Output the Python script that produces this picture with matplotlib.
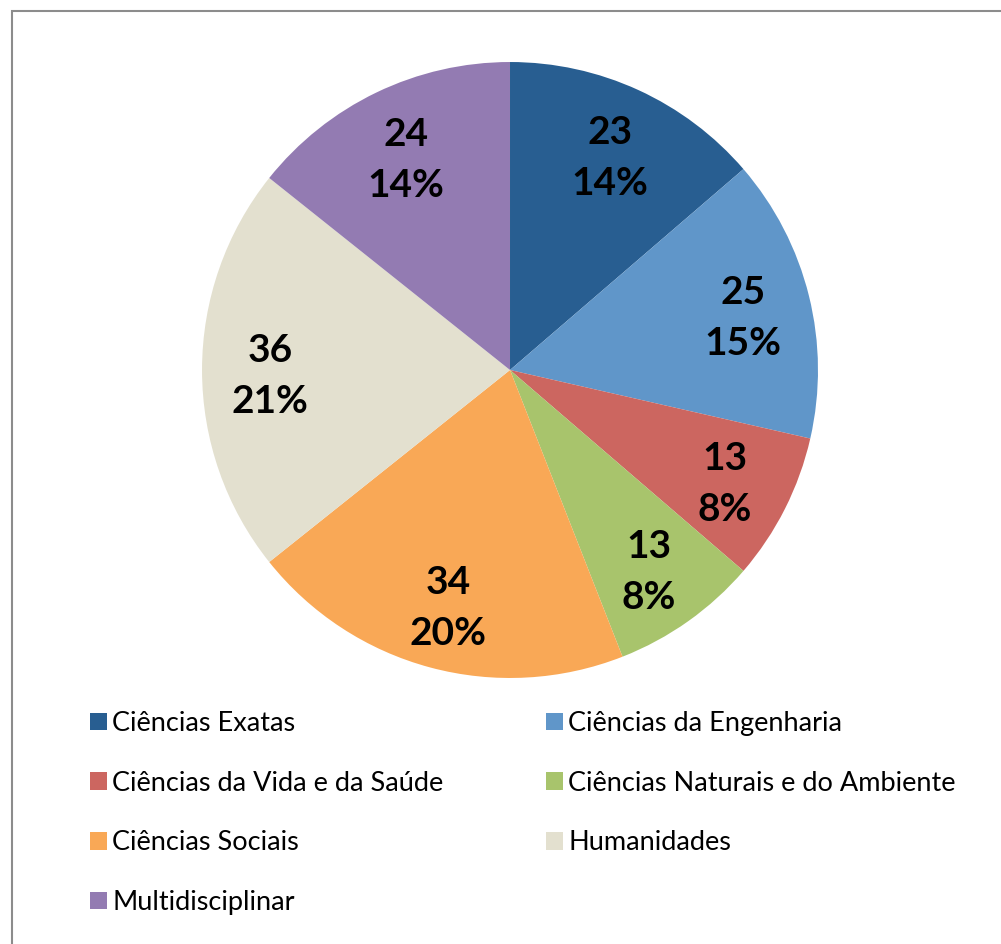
import matplotlib.pyplot as plt
from matplotlib.patches import Rectangle, Patch

# data
categories = ['Ciências Exatas', 'Ciências da Engenharia', 'Ciências da Vida e da Saúde',
              'Ciências Naturais e do Ambiente', 'Ciências Sociais', 'Humanidades',
              'Multidisciplinar']
values = [23, 25, 13, 13, 34, 36, 24]
colors = ['#285E91', '#6096C9', '#CC6660', '#A8C46C', '#F9A856', '#E3E0CF', '#937BB2']

plt.rcParams['font.family'] = ['Lato', 'DejaVu Sans']

total = sum(values)

def fmt(pct):
    return '%d\n%.0f%%' % (round(pct * total / 100.0), pct)

fig = plt.figure(figsize=(10.01, 9.44), dpi=100)
ax = fig.add_axes([0.2018, 0.2818, 0.6154, 0.6525])
wedges, _, autotexts = ax.pie(values, colors=colors, startangle=90, counterclock=False,
                              radius=1.0, autopct=fmt, pctdistance=0.78,
                              wedgeprops=dict(linewidth=0),
                              textprops=dict(fontsize=28, fontweight='bold',
                                             color='black', linespacing=1.55))
# nudge labels so the glyphs (not the text box) sit on the label point
for t in autotexts:
    x, y = t.get_position()
    t.set_position((x, y - 0.02))
ax.set_xlim(-1, 1)
ax.set_ylim(-1, 1)
ax.set_aspect('equal')

# legend, filled row by row
order = [0, 2, 4, 6, 1, 3, 5]
handles = [Patch(facecolor=colors[i], edgecolor='none') for i in order]
labels = [categories[i] for i in order]
fig.legend(handles, labels, ncol=2, loc='upper left',
           bbox_to_anchor=(0.0899, 0.2468), frameon=False, fontsize=19.5,
           handlelength=0.63, handleheight=0.63, handletextpad=0.2,
           labelspacing=1.28, columnspacing=3.77, borderaxespad=0, borderpad=0)

# chart border
fig.patches.append(Rectangle((12 / 1001, -0.1), 1.2, 1.1 - 11 / 944,
                             transform=fig.transFigure, fill=False,
                             edgecolor='#8c8c8c', linewidth=1.5))

fig.savefig('out.png', dpi=100)
